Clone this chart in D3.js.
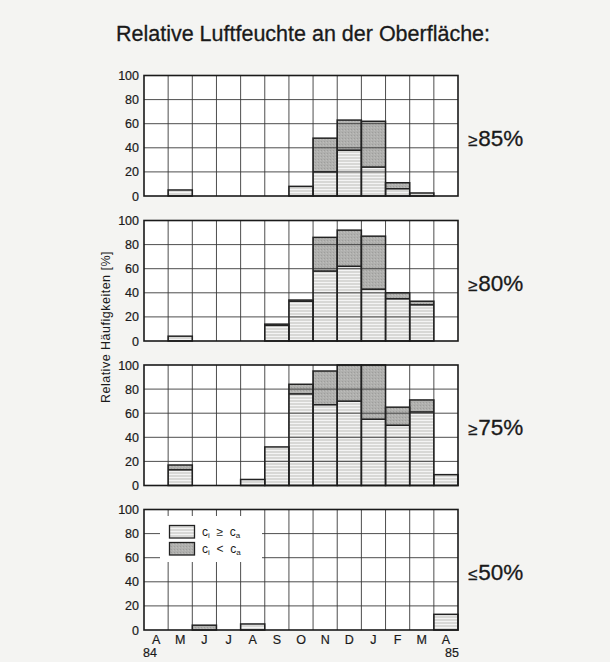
<!DOCTYPE html>
<html><head><meta charset="utf-8">
<script src="https://cdn.jsdelivr.net/npm/d3@7"></script>
<style>
html,body{margin:0;padding:0;background:#f4f4f2;}
svg{display:block;}
text{font-family:"Liberation Sans",Arial,sans-serif;fill:#1a1a1a;}
</style></head>
<body>
<script>
// ---- data ----
const months = ["A","M","J","J","A","S","O","N","D","J","F","M","A"];
const yearLabels = ["84","","","","","","","","","","","","85"];
const yTicks = [0,20,40,60,80,100];
const panelLabels = ["≥85%","≥80%","≥75%","≤50%"];
const legendLabels = [["c","i","  ≥  ","c","a"],["c","i","  <  ","c","a"]];
// light = c_i >= c_a (hatched), dark = c_i < c_a (stippled)
const light85 = [0,5,0,0,0,0,8,20,38,24,6,2.5,0];
const dark85  = [0,0,0,0,0,0,0,28,25,38,5,0,0];
const light80 = [0,4,0,0,0,13,33,58,62,43,35,30,0];
const dark80  = [0,0,0,0,0,1,1,28,30,44,5,3,0];
const light75 = [0,13,0,0,5,32,76,67,70,55,50,61,9];
const dark75  = [0,4,0,0,0,0,8,28,30,45,15,10,0];
const light50 = [0,0,0,0,5,0,0,0,0,0,0,0,13];
const dark50  = [0,0,4,0,0,0,0,0,0,0,0,0,0];
const lightSeries = [light85, light80, light75, light50];
const darkSeries  = [dark85, dark80, dark75, dark50];

// ---- layout ----
const W = 610, H = 662;
const left = 144, right = 458;
const panelTops = [75.5, 220.5, 365, 509.5];
const panelH = 120.5;

const svg = d3.select("body").append("svg").attr("width", W).attr("height", H);
const defs = svg.append("defs");
const hp = defs.append("pattern").attr("id","hatch").attr("patternUnits","userSpaceOnUse")
  .attr("width",4).attr("height",3);
hp.append("rect").attr("width",4).attr("height",3).attr("fill","#d8d8d6");
hp.append("rect").attr("y",0).attr("width",4).attr("height",1).attr("fill","#f4f4f4");
const sp = defs.append("pattern").attr("id","stip").attr("patternUnits","userSpaceOnUse")
  .attr("width",3).attr("height",3);
sp.append("rect").attr("width",3).attr("height",3).attr("fill","#b0b0ae");
sp.append("rect").attr("x",0).attr("y",0).attr("width",1).attr("height",1).attr("fill","#9e9e9c");
sp.append("rect").attr("x",2).attr("y",1).attr("width",1).attr("height",1).attr("fill","#bdbdbb");

svg.append("text").attr("x", 303).attr("y", 41).attr("text-anchor","middle")
  .attr("font-size", 21.5).attr("stroke","#1a1a1a").attr("stroke-width",0.3)
  .text("Relative Luftfeuchte an der Oberfläche:");

const x = d3.scaleBand().domain(d3.range(months.length)).range([left, right]).padding(0);

panelLabels.forEach((lab, p) => {
  const top = panelTops[p], bot = top + panelH;
  const y = d3.scaleLinear().domain([0,100]).range([bot, top]);
  const g = svg.append("g");
  g.append("rect").attr("x", left).attr("y", top).attr("width", right-left).attr("height", panelH).attr("fill","#fff");

  const L = lightSeries[p], D = darkSeries[p];
  const idx = d3.range(months.length);
  g.selectAll(".lb").data(idx.filter(i => L[i] > 0)).join("rect")
    .attr("x", i => x(i)).attr("width", x.bandwidth())
    .attr("y", i => y(L[i])).attr("height", i => y(0) - y(L[i]))
    .attr("fill","url(#hatch)");
  g.selectAll(".db").data(idx.filter(i => D[i] > 0)).join("rect")
    .attr("x", i => x(i)).attr("width", x.bandwidth())
    .attr("y", i => y(L[i] + D[i])).attr("height", i => y(L[i]) - y(L[i] + D[i]))
    .attr("fill","url(#stip)");

  // grid
  const gridG = g.append("g");
  yTicks.slice(1,-1).forEach(t => {
    gridG.append("line").attr("x1", left).attr("x2", right).attr("y1", y(t)).attr("y2", y(t))
      .attr("stroke","#3a3a3a").attr("stroke-width",0.9);
  });
  d3.range(1, months.length).forEach(i => {
    gridG.append("line").attr("x1", x(i)).attr("x2", x(i)).attr("y1", top).attr("y2", bot)
      .attr("stroke","#3a3a3a").attr("stroke-width",0.9);
  });

  // bar outlines
  g.selectAll(".bo").data(idx.filter(i => L[i] + D[i] > 0)).join("rect")
    .attr("x", i => x(i)).attr("width", x.bandwidth())
    .attr("y", i => y(L[i] + D[i])).attr("height", i => y(0) - y(L[i] + D[i]))
    .attr("fill","none").attr("stroke","#222").attr("stroke-width",1.5);
  g.selectAll(".sep").data(idx.filter(i => L[i] > 0 && D[i] > 0)).join("line")
    .attr("x1", i => x(i)).attr("x2", i => x(i) + x.bandwidth())
    .attr("y1", i => y(L[i])).attr("y2", i => y(L[i]))
    .attr("stroke","#222").attr("stroke-width",1.6);

  // legend in last panel
  if (p === 3) {
    g.append("rect").attr("x", 160).attr("y", 516).attr("width", 102).attr("height", 46).attr("fill","#fff");
    const fills = ["url(#hatch)","url(#stip)"];
    legendLabels.forEach((parts, k) => {
      const ly = 525.5 + k*17;
      g.append("rect").attr("x", 169.5).attr("y", ly).attr("width", 25).attr("height", 12.5)
        .attr("fill", fills[k]).attr("stroke","#222").attr("stroke-width",1.3);
      const t = g.append("text").attr("x", 202).attr("y", ly + 10).attr("font-size", 12)
        .style("white-space","pre");
      t.append("tspan").text(parts[0]);
      t.append("tspan").attr("font-size", 8).attr("dy", 2).text(parts[1]);
      t.append("tspan").attr("dy", -2).text(parts[2]);
      t.append("tspan").text(parts[3]);
      t.append("tspan").attr("font-size", 8).attr("dy", 2).text(parts[4]);
    });
  }

  // frame
  g.append("rect").attr("x", left).attr("y", top).attr("width", right-left).attr("height", panelH)
    .attr("fill","none").attr("stroke","#1a1a1a").attr("stroke-width",1.6);

  // y axis
  const ax = g.append("g").attr("transform", `translate(${left},0)`)
    .call(d3.axisLeft(y).tickValues(yTicks).tickSize(0).tickPadding(5));
  ax.select(".domain").remove();
  ax.selectAll("text").attr("font-size", 12.5).attr("font-family","Liberation Sans, Arial, sans-serif")
    .attr("fill","#1a1a1a").attr("stroke","#1a1a1a").attr("stroke-width",0.2);

  // panel label
  const bt = svg.append("text").attr("x", 468).attr("y", top + panelH/2 + 10).attr("font-size", 22.5)
    .attr("stroke","#1a1a1a").attr("stroke-width",0.3);
  bt.append("tspan").attr("font-size", 17).text(lab[0]);
  bt.append("tspan").attr("dx", 1).text(lab.slice(1));
});

// x axis labels on bottom panel
const lastBot = panelTops[3] + panelH;
const xa = svg.append("g").attr("transform", `translate(0,${lastBot})`)
  .call(d3.axisBottom(x).tickSize(0).tickPadding(5).tickFormat(i => months[i]));
xa.select(".domain").remove();
xa.selectAll("text").attr("font-size", 12.5).attr("font-family","Liberation Sans, Arial, sans-serif")
  .attr("fill","#1a1a1a").attr("stroke","#1a1a1a").attr("stroke-width",0.2);
svg.append("g").selectAll("text").data(d3.range(months.length).filter(i => yearLabels[i])).join("text")
  .attr("x", (i) => x(i) + x.bandwidth()/2 + (i === 0 ? -6 : 6)).attr("y", lastBot + 27)
  .attr("text-anchor","middle").attr("font-size", 12.5).attr("stroke","#1a1a1a").attr("stroke-width",0.2)
  .text(i => yearLabels[i]);

// y axis title
svg.append("text").attr("transform", "translate(110,327) rotate(-90)").attr("text-anchor","middle")
  .attr("font-size", 12.5).attr("letter-spacing", 0.5).text("Relative Häufigkeiten [%]");
</script>
</body></html>
